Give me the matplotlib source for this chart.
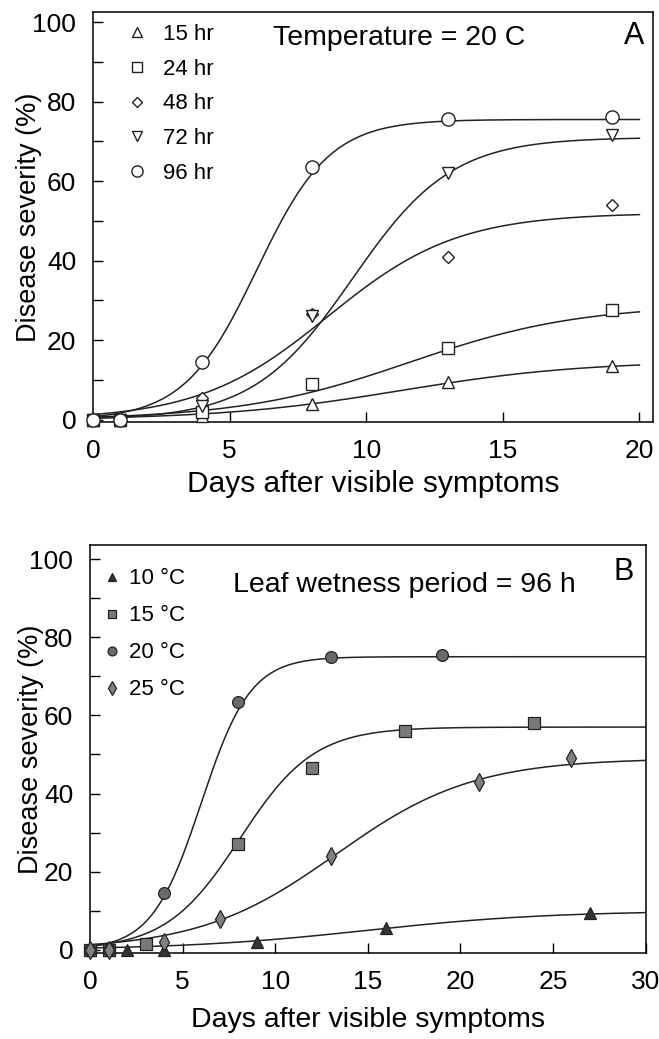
import numpy as np
import matplotlib
matplotlib.use("Agg")
import matplotlib.pyplot as plt

plt.rcParams['font.family'] = ['Liberation Sans', 'DejaVu Sans']

# Panel A: temperature 20 C, different leaf wetness durations
days_a = [0, 1, 4, 8, 13, 19]
labels_a = ['15 hr', '24 hr', '48 hr', '72 hr', '96 hr']
sev_15hr = [0, 0, 1, 4, 9.5, 13.5]
sev_24hr = [0, 0, 2, 9, 18, 27.5]
sev_48hr = [0, 0, 5.5, 26.5, 41, 54]
sev_72hr = [0, 0, 3.5, 26, 62, 71.5]
sev_96hr = [0, 0, 14.5, 63.5, 75.5, 76]
# logistic fit (asymptote, rate, midpoint)
fit_a = [(14.8, 0.30, 11.3), (29.0, 0.32, 11.6), (52.0, 0.423, 8.6),
         (71.0, 0.55, 9.5), (75.5, 0.75, 6.0)]

# Panel B: leaf wetness 96 h, different temperatures
labels_b = ['10 °C', '15 °C', '20 °C', '25 °C']
days_10c = [0, 1, 2, 4, 9, 16, 27]
sev_10c = [0, 0, 0, 0, 2, 5.5, 9.5]
days_15c = [0, 1, 3, 8, 12, 17, 24]
sev_15c = [0, 0, 1.5, 27, 46.5, 56, 58]
days_20c = [0, 1, 4, 8, 13, 19]
sev_20c = [0, 0, 14.5, 63.5, 75, 75.5]
days_25c = [0, 1, 4, 7, 13, 21, 26]
sev_25c = [0, 0, 2, 8, 24, 43, 49]
fit_b = [(10.0, 0.20, 15.0), (57.0, 0.50, 8.1), (75.0, 0.75, 6.0),
         (49.0, 0.27, 13.3)]


def logistic(x, k, r, x0):
    return k / (1 + np.exp(-r * (x - x0)))


def style_axes(ax, xmax, xticks, ylab_x, xlab_y, xlab_size):
    ax.set_xlim(0, xmax)
    ax.set_xticks(xticks)
    ax.set_yticks([0, 20, 40, 60, 80, 100])
    ax.set_yticks([10, 30, 50, 70, 90], minor=True)
    ax.tick_params(direction='in', length=7, width=1.0, labelsize=19, pad=12)
    ax.tick_params(which='minor', direction='in', length=7, width=1.0)
    for s in ax.spines.values():
        s.set_linewidth(1.1)
    ax.set_ylabel('Disease severity (%)', fontsize=19.5, va='center')
    ax.set_xlabel('Days after visible symptoms', fontsize=xlab_size, va='center')
    ax.yaxis.set_label_coords(ylab_x, 0.5)
    ax.xaxis.set_label_coords(0.5, xlab_y)


fig = plt.figure(figsize=(6.59, 10.39), dpi=100)

# ---- A ----
ax1 = fig.add_axes([0.141, 0.594, 0.850, 0.394])
xs = np.linspace(0, 20, 300)
series_a = [sev_15hr, sev_24hr, sev_48hr, sev_72hr, sev_96hr]
markers_a = ['^', 's', 'D', 'v', 'o']
msizes_a = [8, 9, 6.5, 8, 9.5]
for vals, (k, r, x0), m, ms, lab in zip(series_a, fit_a, markers_a, msizes_a, labels_a):
    ax1.plot(xs, logistic(xs, k, r, x0), color='#222222', lw=1.1)
    ax1.plot(days_a, vals, ls='none', marker=m, ms=ms, mfc='white',
             mec='#222222', mew=1.0, label=lab, clip_on=False, zorder=3)
ax1.set_ylim(-0.5, 102.4)
style_axes(ax1, 20.5, [0, 5, 10, 15, 20], -0.115, -0.152, 21.5)
ax1.legend(loc='upper left', frameon=False, fontsize=16, markerscale=0.85,
           handlelength=1.0, handletextpad=0.65, labelspacing=0.62,
           borderaxespad=0.2, bbox_to_anchor=(0.035, 1.005))
ax1.text(11.2, 95.9, 'Temperature = 20 C', fontsize=20.5, ha='center', va='center')
ax1.text(19.8, 96.4, 'A', fontsize=22, ha='center', va='center')

# ---- B ----
ax2 = fig.add_axes([0.1366, 0.0828, 0.843, 0.3927])
xs = np.linspace(0, 30, 400)
series_b = [(days_10c, sev_10c), (days_15c, sev_15c), (days_20c, sev_20c),
            (days_25c, sev_25c)]
markers_b = ['^', 's', 'o', 'd']
faces_b = ['#333333', '#7a7a7a', '#6a6a6a', '#808080']
msizes_b = [8, 8.5, 8.5, 9]
for (d, vals), (k, r, x0), m, fc, ms, lab in zip(series_b, fit_b, markers_b,
                                                faces_b, msizes_b, labels_b):
    ax2.plot(xs, logistic(xs, k, r, x0), color='#222222', lw=1.1)
    ax2.plot(d, vals, ls='none', marker=m, ms=ms, mfc=fc, mec='#222222',
             mew=0.9, label=lab, clip_on=False, zorder=3)
ax2.set_ylim(-0.8, 103.6)
style_axes(ax2, 30, [0, 5, 10, 15, 20, 25, 30], -0.106, -0.164, 20.5)
ax2.legend(loc='upper left', frameon=False, fontsize=16, markerscale=0.75,
           handlelength=0.8, handletextpad=0.35, labelspacing=0.72,
           borderaxespad=0.2, bbox_to_anchor=(0.0, 0.975))
ax2.text(17.0, 93.3, 'Leaf wetness period = 96 h', fontsize=20.5,
         ha='center', va='center')
ax2.text(28.8, 96.7, 'B', fontsize=22, ha='center', va='center')

fig.savefig('out.png', dpi=100)
